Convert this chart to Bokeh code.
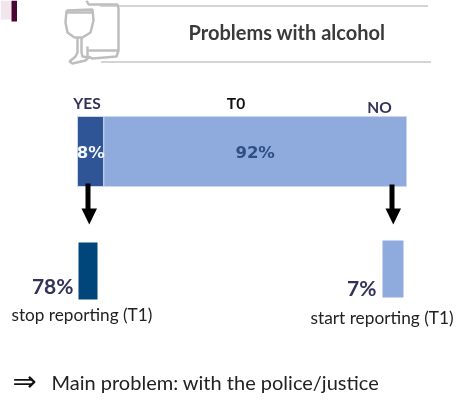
from bokeh.plotting import figure
from bokeh.models import Range1d
from bokeh.core.properties import value
from bokeh.embed import file_html
from bokeh.resources import INLINE

# Data
t0_labels = ["YES", "NO"]
t0_values = [8, 92]
t0_texts = ["8%", "92%"]
t1_values = [78, 7]
t1_texts = ["78%", "7%"]
t1_labels = ["stop reporting (T1)", "start reporting (T1)"]
title = "Problems with alcohol"
note = "Main problem: with the police/justice"

W, H = 461, 405
BAR_L, BAR_R = 77, 406
scale = (BAR_R - BAR_L) / 100
p = figure(width=W, height=H, output_backend="svg", toolbar_location=None,
           x_range=Range1d(-BAR_L / scale, (W - BAR_L) / scale),
           y_range=Range1d(H, 0), min_border=0, outline_line_color=None,
           background_fill_color="white", border_fill_color="white",
           x_axis_location=None, y_axis_location=None,
           styles={"position": "fixed", "left": "0px", "top": "0px"})
p.grid.visible = False
p.extra_x_ranges = {"px": Range1d(0, W)}

# stacked T0 bar
p.hbar(y=[151], height=[70], left=[0], right=[t0_values[0]], fill_color="#2F5597",
       line_color="#C9D6EE", line_width=1)
p.hbar(y=[151], height=[70], left=[t0_values[0]], right=[t0_values[0] + t0_values[1]],
       fill_color="#8FAADC", line_color="#C9D6EE", line_width=1)

def px_text(x, y, s, size, color, align="center", bold=False, font="Lato"):
    p.text(x=[x], y=[y], text=[s], x_range_name="px", text_font=value(font),
           text_font_size=f"{size}px", text_color=color, text_align=align,
           text_baseline="middle", text_font_style="bold" if bold else "normal")

# corner decoration
p.quad(left=[0], right=[11], top=[0], bottom=[19], x_range_name="px",
       fill_color="#F1E6EC", line_color=None)
p.quad(left=[11], right=[16.5], top=[0], bottom=[21], x_range_name="px",
       fill_color="#4A0633", line_color=None)

# rules
p.line([100, 428], [5.5, 5.5], x_range_name="px", line_color="#555555", line_width=1, line_dash="1 1")
p.line([101, 430], [61.5, 61.5], x_range_name="px", line_color="#555555", line_width=1, line_dash="1 1")

# bottle and glass icon
G = "#BEBEBE"
for xs, ys in [
    ([86, 88, 88, 117, 118, 118, 116, 92, 87, 87], [0, 4, 4, 4, 8, 50, 56, 58, 56, 46]),
    ([88, 118], [50, 50]),
    ([66, 65, 67, 74, 82, 90, 93, 92, 66], [10, 22, 32, 37, 37, 32, 20, 9, 10]),
    ([66, 92], [12, 12]),
    ([77, 77, 75, 69, 72, 85, 88, 82, 81, 81], [37, 52, 56, 61, 63, 60, 57, 56, 52, 37]),
]:
    p.line(xs, ys, x_range_name="px", line_color=G, line_width=2.5)

# headers
px_text(286.5, 31, title, 20, "#3A3A3A", bold=True)
px_text(86.5, 102.5, t0_labels[0], 15.5, "#33335A", bold=True)
px_text(235.5, 102.5, "T0", 15.5, "#111111", bold=True)
px_text(379, 106, t0_labels[1], 15.5, "#33335A", bold=True)

# bar labels
p.text(x=[t0_values[0] / 2], y=[152], text=[t0_texts[0]], text_font=value("DejaVu Sans"),
       text_font_size="16.5px", text_font_style="bold", text_color="#F4F6FB",
       text_align="center", text_baseline="middle")
p.text(x=[t0_values[0] + t0_values[1] / 2], y=[152], text=[t0_texts[1]], text_font=value("DejaVu Sans"),
       text_font_size="16.5px", text_font_style="bold", text_color="#2F4F85",
       text_align="center", text_baseline="middle")

# arrows
for cx, x0, x1, yt in [(87.5, 81, 96.5, 183), (391.5, 385, 400.5, 184)]:
    p.quad(left=[cx - 2.5], right=[cx + 2.5], top=[yt], bottom=[209], x_range_name="px",
           fill_color="black", line_color=None)
    p.patch([x0, x1, (x0 + x1) / 2], [208, 208, 224], x_range_name="px",
            fill_color="black", line_color=None)

# T1 bars
p.quad(left=[78], right=[97], top=[242], bottom=[299], x_range_name="px",
       fill_color="#00467A", line_color=None)
p.quad(left=[382], right=[403], top=[240], bottom=[297], x_range_name="px",
       fill_color="#8FAADC", line_color=None)
px_text(73, 285, t1_texts[0], 21, "#33335A", "right", True)
px_text(376, 287, t1_texts[1], 21, "#33335A", "right", True)
px_text(11, 314, t1_labels[0], 17.2, "#222222", "left")
px_text(310, 317, t1_labels[1], 17.3, "#222222", "left")

# note
px_text(12, 380, "\u21d2", 29, "#111111", "left", font="DejaVu Sans")
px_text(51, 381, note, 20, "#222222", "left")

open("out.html", "w").write(file_html(p, INLINE))
